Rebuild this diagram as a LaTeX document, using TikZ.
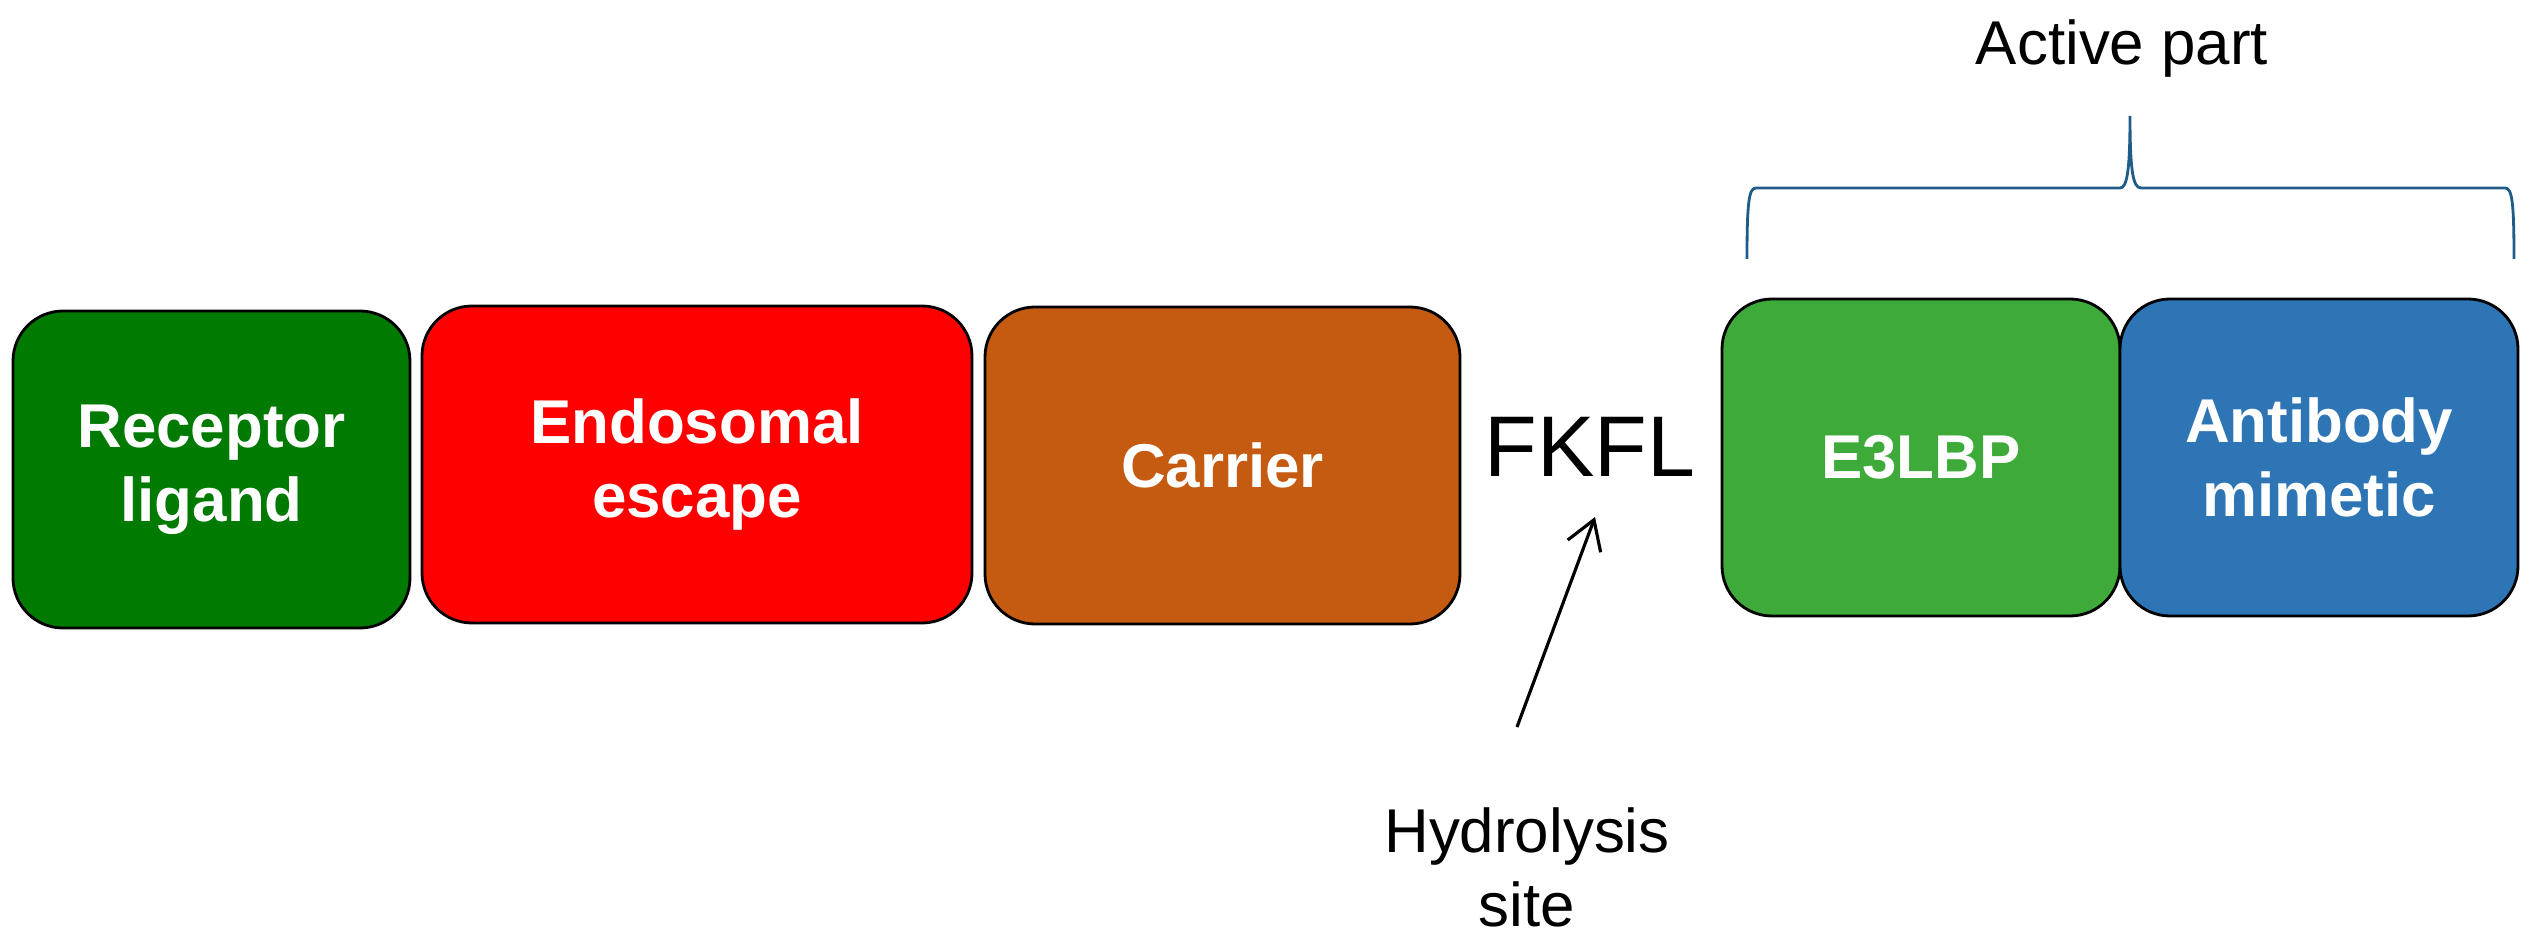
\documentclass[tikz,border=0pt]{standalone}
\usepackage{fontspec}
\setmainfont{Liberation Sans}
\usetikzlibrary{positioning,arrows.meta}
\definecolor{ligandgreen}{RGB}{0,122,0}
\definecolor{escapered}{RGB}{255,0,0}
\definecolor{carrierbrown}{RGB}{197,90,17}
\definecolor{ebgreen}{RGB}{61,170,58}
\definecolor{mimeticblue}{RGB}{46,117,182}
\definecolor{bracecol}{RGB}{31,92,135}
\begin{document}
\begin{tikzpicture}[>={Straight Barb[length=8pt,width=10pt]}, x=1cm, y=1cm,
    part/.style={draw=black, line width=0.8pt, rounded corners=0.5cm, text=white,
      font=\bfseries\fontsize{17.6}{21}\selectfont, align=center, inner sep=0pt,
      minimum height=3.17cm},
    plaintext/.style={font=\fontsize{17.6}{21}\selectfont, align=center, inner sep=0pt}]
    \useasboundingbox (0,0) rectangle (25.39,9.46);
    % the five parts of the chain
    \node[part, fill=ligandgreen, minimum width=3.97cm] (lig) at (2.115,4.765) {Receptor\\ligand};
    \node[part, fill=escapered, minimum width=5.50cm] (endo) at (6.97,4.815) {Endosomal\\escape};
    \node[part, fill=carrierbrown, minimum width=4.75cm] (carrier) at (12.225,4.805) {Carrier};
    \node[part, fill=ebgreen, minimum width=3.98cm] (e3) at (19.21,4.885) {E3LBP};
    \node[part, fill=mimeticblue, minimum width=3.98cm] (mimetic) at (23.19,4.885) {Antibody\\mimetic};
    % linker and cleavage site
    \node[inner sep=0pt, font=\fontsize{24.5}{28}\selectfont] (fkfl) at (15.90,4.99) {FKFL};
    \node[plaintext] (hsite) at (15.27,0.785) {Hydrolysis\\site};
    \coordinate (tail) at (15.17,2.19);
    \coordinate (head) at (15.95,4.29);
    \draw[->, line width=0.9pt] (tail) -- (head);
    % brace over the active part
    \draw[bracecol, line width=0.8pt] (17.47,6.87) .. controls (17.47,7.45) and (17.49,7.58) .. (17.56,7.58)
      -- (21.20,7.58) .. controls (21.27,7.58) and (21.30,7.75) .. (21.30,8.30)
      .. controls (21.30,7.75) and (21.33,7.58) .. (21.41,7.58)
      -- (25.05,7.58) .. controls (25.12,7.58) and (25.14,7.45) .. (25.14,6.87);
    \node[plaintext] (active) at (21.22,8.97) {Active part};
\end{tikzpicture}
\end{document}
